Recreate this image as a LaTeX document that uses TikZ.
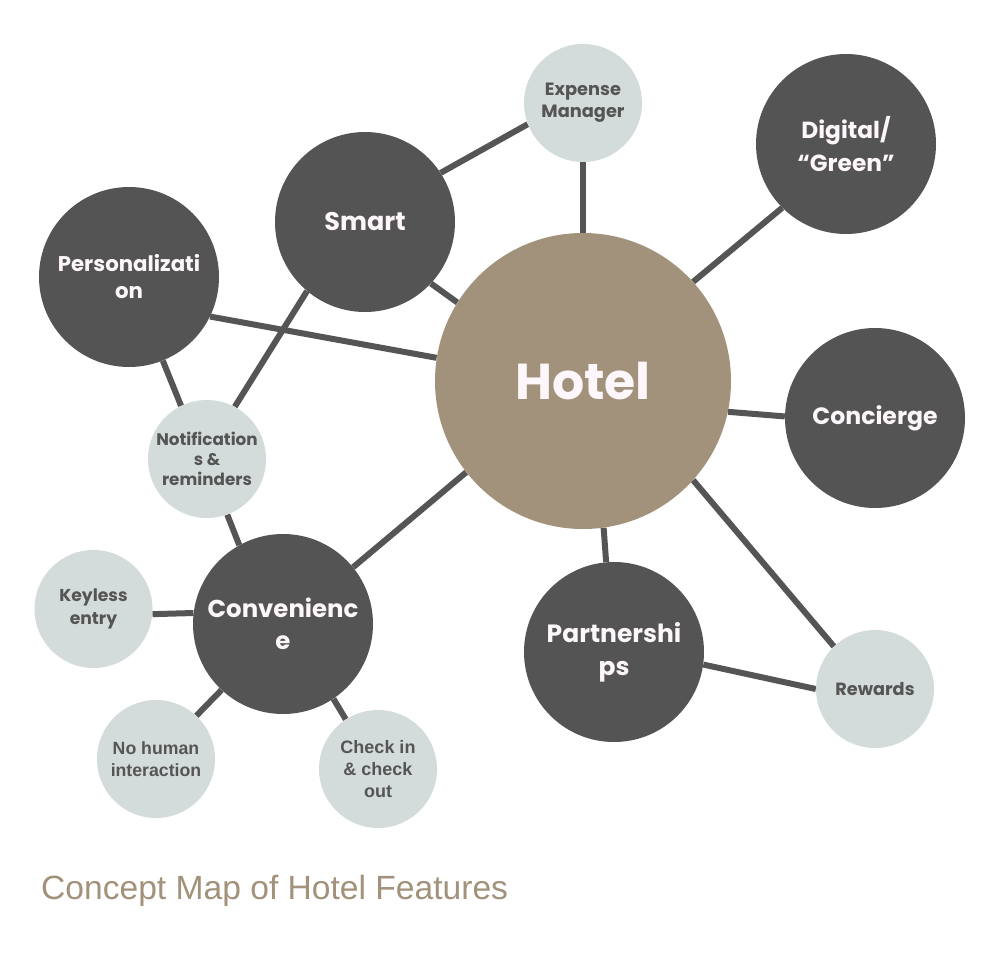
\documentclass[tikz,border=0pt]{standalone}
\usepackage{fontspec}
\setmainfont{Liberation Sans}
\newfontfamily\pop{Poppins}
\usetikzlibrary{backgrounds}
\definecolor{darkc}{HTML}{545454}
\definecolor{lightc}{HTML}{D4DCDB}
\definecolor{hotelc}{HTML}{A3927B}
\definecolor{linec}{HTML}{555555}
\definecolor{whitetxt}{HTML}{FDF6FA}
\definecolor{greytxt}{HTML}{555555}
\definecolor{titlec}{HTML}{A3927B}
\pgfdeclarelayer{lines}
\pgfsetlayers{background,lines,main}
\begin{document}
\begin{tikzpicture}[x=1pt,y=-1pt,
  fs/.style 2 args={font=\pop\bfseries\fontsize{#1}{#2}\selectfont},
  fh/.style 2 args={font=\bfseries\fontsize{#1}{#2}\selectfont},
  big/.style={circle, fill=darkc, minimum size=180pt, inner sep=0pt, align=center, text=whitetxt},
  small/.style={circle, fill=lightc, minimum size=118pt, inner sep=0pt, align=center, text=greytxt},
  hub/.style={circle, fill=hotelc, minimum size=296pt, inner sep=0pt, text=whitetxt, fs={50.5}{60}},
  link/.style={draw=linec, line width=6pt}]
\begin{pgfonlayer}{background}
\fill[white] (0,0) rectangle (1000,958);
\end{pgfonlayer}
\useasboundingbox (0,0) rectangle (1000,958);

\node[hub] (hotel) at (583,381) {Hotel};
\node[big, fs={25.5}{32}] (smart) at (365,222) {Smart};
\node[big, fs={21.3}{27}] (pers) at (129,277) {Personalizati\\on};
\node[big, fs={23.3}{33}] (digital) at (846,144) {Digital/\\“Green”};
\node[big, fs={23.6}{33}] (concierge) at (875,418) {Concierge};
\node[big, fs={25}{33}] (partner) at (614,652) {Partnershi\\ps};
\node[big, fs={24.4}{32}] (conv) at (283,624) {Convenienc\\e};
\node[small, fs={17.8}{22}] (expense) at (583,103) {Expense\\Manager};
\node[small, fs={16.8}{20}] (notif) at (207,459) {Notification\\s \&\\reminders};
\node[small, fs={17.7}{22}] (rewards) at (875,689) {Rewards};
\node[small, fs={17.2}{22.5}] (keyless) at (93.5,609) {Keyless\\entry};
\node[small, fh={17.7}{22}] (nohuman) at (156,759) {No human\\interaction};
\node[small, fh={18}{22}] (checkin) at (378,769) {Check in\\\& check\\out};

\node[anchor=base west, text=titlec, font=\fontsize{33.6}{40}\selectfont, inner sep=0pt] (title) at (41,899) {Concept Map of Hotel Features};

\begin{pgfonlayer}{lines}
\draw[link] (pers.-26.6) -- (hotel.171);
\draw[link] (pers.-68) -- (notif.116);
\draw[link] (smart.230) -- (notif.62);
\draw[link] (notif.-70) -- (conv.119);
\draw[link] (smart.-43) -- (hotel.148.6);
\draw[link] (smart.33.5) -- (expense.201);
\draw[link] (expense.south) -- (hotel.north);
\draw[link] (hotel.42.3) -- (digital.225.4);
\draw[link] (hotel.-12.4) -- (concierge.179);
\draw[link] (hotel.-82.3) -- (partner.95.8);
\draw[link] (hotel.-42.3) -- (rewards.134.3);
\draw[link] (partner.-8.8) -- (rewards.180);
\draw[link] (hotel.218.7) -- (conv.39.6);
\draw[link] (keyless.-5) -- (conv.173.7);
\draw[link] (nohuman.47.8) -- (conv.227.7);
\draw[link] (checkin.123.4) -- (conv.-56);
\end{pgfonlayer}
\end{tikzpicture}
\end{document}
